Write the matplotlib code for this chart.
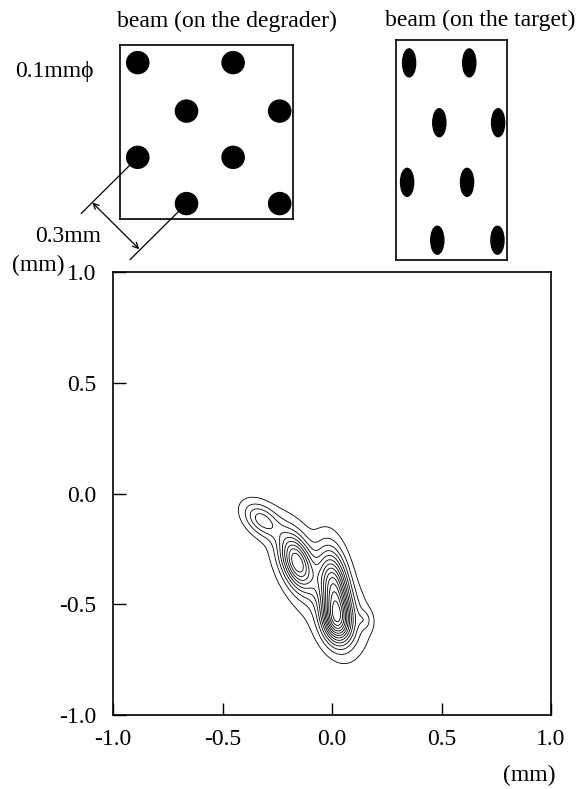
import numpy as np
import matplotlib
matplotlib.use("Agg")
import matplotlib.pyplot as plt
from matplotlib.patches import Ellipse, Circle

plt.rcParams['font.family'] = ['Liberation Serif', 'DejaVu Serif']
plt.rcParams['font.size'] = 17

# beam spots on the degrader (mm), 0.1 mm diameter
deg_x = [0.30, 0.72, 0.08, 0.51, 0.30, 0.72, 0.08, 0.51]
deg_y = [0.07, 0.07, 0.28, 0.28, 0.49, 0.49, 0.71, 0.71]
deg_box = (0.78, 0.79)

# beam spots on the target (mm)
tgt_x = [0.186, 0.457, 0.05, 0.32, 0.195, 0.46, 0.059, 0.33]
tgt_y = [0.09, 0.09, 0.353, 0.353, 0.624, 0.624, 0.896, 0.896]
tgt_w, tgt_h = 0.059, 0.127
tgt_box = (0.50, 1.0)

# contour blobs: x, y, major, minor, angle(deg), height
blob_x = [-0.32, -0.16, 0.01, 0.02, 0.10, 0.15, -0.08]
blob_y = [-0.12, -0.31, -0.43, -0.58, -0.55, -0.57, -0.42]
blob_a = [0.065, 0.090, 0.120, 0.070, 0.090, 0.030, 0.240]
blob_b = [0.040, 0.045, 0.045, 0.045, 0.060, 0.022, 0.085]
blob_ang = [-40, -70, -82, -80, -75, -80, -60]
blob_amp = [4.0, 8.5, 9.5, 7.0, 1.0, 1.3, 1.4]
levels = np.arange(0.7, 14, 1.0)

ticks = [-1.0, -0.5, 0.0, 0.5, 1.0]

fig = plt.figure(figsize=(5.77, 7.89), dpi=100)

# main contour plot
ax = fig.add_axes([113 / 577, 1 - 715 / 789, 438 / 577, 443 / 789])
gx = np.linspace(-1, 1, 400)
X, Y = np.meshgrid(gx, gx)
Z = np.zeros_like(X)
for cx, cy, sa, sb, ang, amp in zip(blob_x, blob_y, blob_a, blob_b, blob_ang, blob_amp):
    t = np.deg2rad(ang)
    u = (X - cx) * np.cos(t) + (Y - cy) * np.sin(t)
    v = -(X - cx) * np.sin(t) + (Y - cy) * np.cos(t)
    Z += amp * np.exp(-(u ** 2 / (2 * sa ** 2) + v ** 2 / (2 * sb ** 2)))
ax.contour(X, Y, Z, levels=levels, colors='black', linewidths=0.6)

ax.set_xlim(-1, 1)
ax.set_ylim(-1, 1)
ax.set_xticks(ticks)
ax.set_yticks(ticks)
ax.set_xticklabels([f'{t:.1f}' for t in ticks])
ax.set_yticklabels([f'{t:.1f}' for t in ticks])
ax.tick_params(direction='in', length=9, width=1)
ax.tick_params(axis='x', pad=10)
ax.tick_params(axis='y', pad=12)
for s in ax.spines.values():
    s.set_linewidth(1.2)

# degrader inset
ax1 = fig.add_axes([120 / 577, 1 - 219 / 789, 173 / 577, 174 / 789])
ax1.set_xlim(0, deg_box[0])
ax1.set_ylim(0, deg_box[1])
for x, y in zip(deg_x, deg_y):
    ax1.add_patch(Circle((x, y), 0.05, color='black'))
ax1.set_xticks([])
ax1.set_yticks([])
for s in ax1.spines.values():
    s.set_linewidth(1.2)

# dimension lines between two neighbouring rows (0.3 mm)
d = np.array([-1, -1]) / np.sqrt(2)
for cx, cy in [(deg_x[2], deg_y[2]), (deg_x[0], deg_y[0])]:
    p0 = np.array([cx, cy]) + 0.05 * d
    p1 = np.array([cx, cy]) + 0.36 * d
    ax1.plot([p0[0], p1[0]], [p0[1], p1[1]], color='black', lw=0.9, clip_on=False)
a0 = np.array([deg_x[2], deg_y[2]]) + 0.29 * d
a1 = a0 + 0.3 * np.array([1, -1]) / np.sqrt(2)
ax1.annotate('', xy=a1, xytext=a0, xycoords='data', annotation_clip=False,
             arrowprops=dict(arrowstyle='<->', color='black', lw=0.9,
                             shrinkA=0, shrinkB=0, mutation_scale=10))

# target inset
ax2 = fig.add_axes([396 / 577, 1 - 260 / 789, 111 / 577, 220 / 789])
ax2.set_xlim(0, tgt_box[0])
ax2.set_ylim(0, tgt_box[1])
for x, y in zip(tgt_x, tgt_y):
    ax2.add_patch(Ellipse((x, y), tgt_w, tgt_h, color='black'))
ax2.set_xticks([])
ax2.set_yticks([])
for s in ax2.spines.values():
    s.set_linewidth(1.2)

# texts
fig.text(117 / 577, 1 - 21 / 789, 'beam (on the degrader)', ha='left', va='center')
fig.text(385 / 577, 1 - 20 / 789, 'beam (on the target)', ha='left', va='center')
fig.text(15 / 577, 1 - 72 / 789, '0.1mm\u03d5', ha='left', va='center')
fig.text(35 / 577, 1 - 236 / 789, '0.3mm', ha='left', va='center')
fig.text(12 / 577, 1 - 265 / 789, '(mm)', ha='left', va='center')
fig.text(555 / 577, 1 - 775 / 789, '(mm)', ha='right', va='center')

fig.savefig('out.png', dpi=100)
